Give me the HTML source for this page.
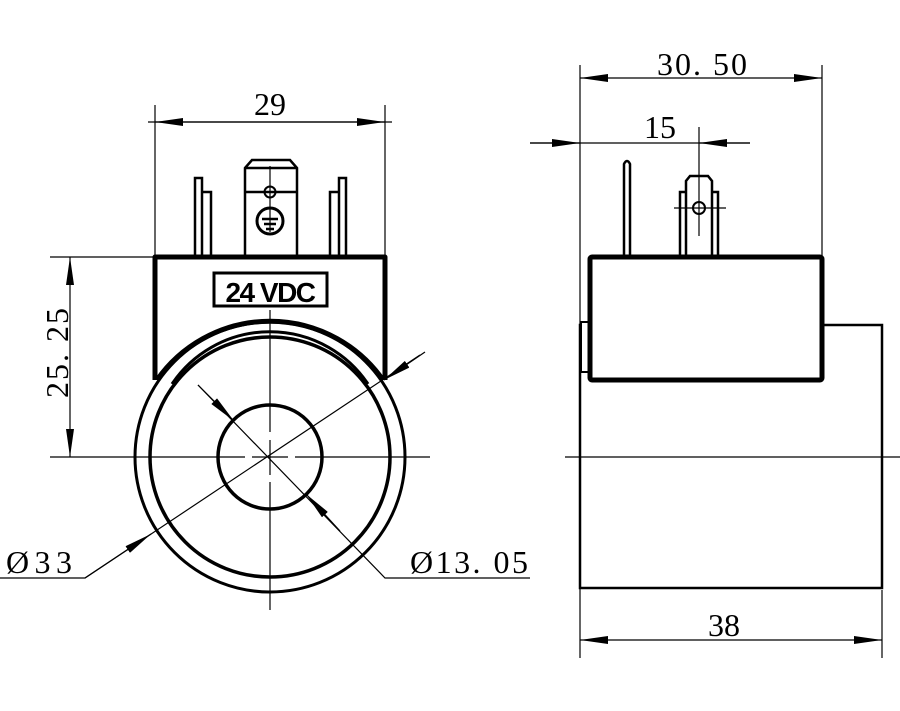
<!DOCTYPE html>
<html><head><style>html,body{margin:0;padding:0;background:#fff}svg{display:block}</style></head><body>
<svg width="900" height="711" viewBox="0 0 900 711" xmlns="http://www.w3.org/2000/svg" font-family="Liberation Serif, serif">
<defs>
<marker id="a" viewBox="0 0 28 8" refX="28" refY="4" markerWidth="28" markerHeight="8" markerUnits="userSpaceOnUse" orient="auto"><path d="M0,0 L28,4 L0,8Z" fill="#000"/></marker>
</defs>
<g stroke="#000" fill="none">
<line x1="155" y1="105" x2="155" y2="257" stroke-width="1.2"/>
<line x1="385" y1="105" x2="385" y2="257" stroke-width="1.2"/>
<line x1="270" y1="122" x2="155" y2="122" stroke-width="1.2" marker-end="url(#a)"/>
<line x1="270" y1="122" x2="385" y2="122" stroke-width="1.2" marker-end="url(#a)"/>
<line x1="148" y1="122" x2="392" y2="122" stroke-width="1.2"/>
<path d="M245,257 V168 L252,160 H290 L297,168 V257 M245,168 H297 M245,192 H297" stroke-width="2.5"/>
<line x1="270" y1="166" x2="270" y2="232" stroke-width="1.2"/>
<circle cx="270" cy="192" r="5.5" stroke-width="2"/>
<circle cx="270" cy="221" r="13" stroke-width="3"/>
<path d="M262,219 H278 M264,224 H276 M266,229 H274" stroke-width="2.5"/>
<path d="M195,257 V178 H202 V257 M202,192 H211 V257" stroke-width="2.5"/>
<path d="M346,257 V178 H339 V257 M339,192 H330 V257" stroke-width="2.5"/>
<path d="M155,380 V257 H385 V380" stroke-width="5" stroke-linejoin="round"/>
<path d="M157,380 A138,138 0 0 1 383,380" stroke-width="5"/>
<path d="M172,384 A118,118 0 0 1 368,384" stroke-width="3"/>
<rect x="214" y="273" width="113" height="33" stroke-width="3"/>
<circle cx="270" cy="457" r="135" stroke-width="3"/>
<circle cx="270" cy="457" r="120" stroke-width="3.5"/>
<circle cx="270" cy="457" r="52" stroke-width="3.5"/>
<path d="M50,457 H245 M252,457 H288 M295,457 H430" stroke-width="1.2"/>
<path d="M270,310 V432 M270,440 V475 M270,482 V610" stroke-width="1.2"/>
<line x1="50" y1="257" x2="155" y2="257" stroke-width="1.2"/>
<line x1="70" y1="360" x2="70" y2="257" stroke-width="1.2" marker-end="url(#a)"/>
<line x1="70" y1="360" x2="70" y2="457" stroke-width="1.2" marker-end="url(#a)"/>
<path d="M0,578 H85 L420,355" stroke-width="1.2"/>
<line x1="85" y1="578" x2="151" y2="534" stroke-width="1.2" marker-end="url(#a)"/>
<line x1="425" y1="352" x2="384" y2="380" stroke-width="1.2" marker-end="url(#a)"/>
<path d="M198,385 L385,578 H530" stroke-width="1.2"/>
<line x1="198" y1="385" x2="234" y2="421" stroke-width="1.2" marker-end="url(#a)"/>
<line x1="340" y1="531" x2="306" y2="494" stroke-width="1.2" marker-end="url(#a)"/>

<line x1="580" y1="65" x2="580" y2="588" stroke-width="1.2"/>
<line x1="822" y1="65" x2="822" y2="257" stroke-width="1.2"/>
<line x1="700" y1="78" x2="580" y2="78" stroke-width="1.2" marker-end="url(#a)"/>
<line x1="700" y1="78" x2="822" y2="78" stroke-width="1.2" marker-end="url(#a)"/>
<line x1="530" y1="143" x2="750" y2="143" stroke-width="1.2"/>
<line x1="530" y1="143" x2="580" y2="143" stroke-width="1.2" marker-end="url(#a)"/>
<line x1="750" y1="143" x2="699" y2="143" stroke-width="1.2" marker-end="url(#a)"/>
<line x1="699" y1="127" x2="699" y2="236" stroke-width="1.2"/>
<line x1="674" y1="208" x2="726" y2="208" stroke-width="1.2"/>
<circle cx="699" cy="208" r="6" stroke-width="2"/>
<path d="M624,257 V164 Q627,158 630,164 V257" stroke-width="2.5"/>
<path d="M686,257 V181 L690,176 H708 L712,181 V257 M680,257 V192 H686 M718,257 V192 H712" stroke-width="2.5"/>
<rect x="580" y="325" width="302" height="263" stroke-width="2.5"/>
<rect x="581" y="322" width="9" height="50" stroke-width="2" fill="#fff"/>
<rect x="590" y="257" width="232" height="123" stroke-width="5" rx="2" fill="#fff"/>
<line x1="565" y1="457" x2="900" y2="457" stroke-width="1.2"/>
<line x1="882" y1="590" x2="882" y2="658" stroke-width="1.2"/>
<line x1="580" y1="588" x2="580" y2="658" stroke-width="1.2"/>
<line x1="730" y1="640" x2="580" y2="640" stroke-width="1.2" marker-end="url(#a)"/>
<line x1="730" y1="640" x2="882" y2="640" stroke-width="1.2" marker-end="url(#a)"/>
</g>
<g fill="#000" font-size="32">
<text x="270" y="115" text-anchor="middle">29</text>
<text x="703" y="75" text-anchor="middle" letter-spacing="2">30. 50</text>
<text x="660" y="138" text-anchor="middle">15</text>
<text x="724" y="636" text-anchor="middle">38</text>
<text transform="translate(68,352) rotate(-90)" text-anchor="middle" letter-spacing="2">25. 25</text>
<text x="6" y="573" textLength="66" lengthAdjust="spacing">Ø33</text>
<text x="410" y="573" textLength="118" lengthAdjust="spacing">Ø13. 05</text>
<text x="270" y="302" text-anchor="middle" font-family="Liberation Sans, sans-serif" font-weight="bold" font-size="28" letter-spacing="-1.5">24 VDC</text>
</g>
</svg>
</body></html>
